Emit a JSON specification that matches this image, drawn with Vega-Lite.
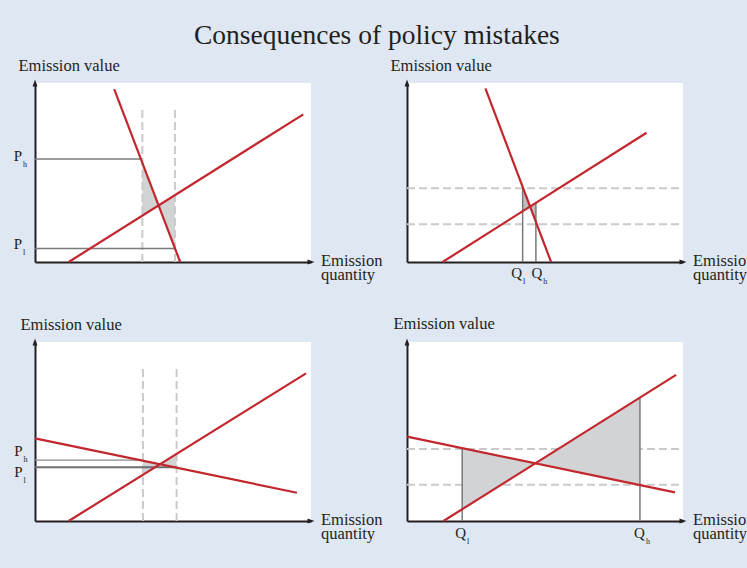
{
  "$schema": "https://vega.github.io/schema/vega-lite/v6.json",
  "background": "#dfe7f3",
  "padding": {"left": 13, "top": 21, "right": 0, "bottom": 26},
  "title": {"text": "Consequences of policy mistakes", "font": "Liberation Serif", "fontSize": 27.5, "fontWeight": "normal", "color": "#231f20", "anchor": "start", "frame": "group", "dx": 159, "offset": 8},
  "config": {
    "view": {"fill": "white", "stroke": null},
    "font": "Liberation Serif",
    "axis": {"domainColor": "#231f20", "domainWidth": 2, "ticks": false, "labels": false, "grid": false, "titleFont": "Liberation Serif", "titleFontWeight": "normal", "titleFontSize": 16.5, "titleColor": "#231f20"}
  },
  "bounds": "flush",
  "columns": 2,
  "spacing": {"row": 80, "column": 96},
  "concat": [
    {
      "width": 276, "height": 179,
      "encoding": {
        "x": {"field": "x", "type": "quantitative", "scale": {"domain": [0, 100], "nice": false, "zero": false}, "axis": {"title": ["Emission", "quantity"], "titleX": 285.5, "titleY": 3, "titleAlign": "left", "titleBaseline": "alphabetic", "titleLineHeight": 14.5}},
        "y": {"field": "y", "type": "quantitative", "scale": {"domain": [0, 100], "nice": false, "zero": false}, "axis": {"title": "Emission value", "titleAngle": 0, "titleX": -17, "titleY": -13, "titleAlign": "left", "titleBaseline": "alphabetic"}}
      },
      "layer": [
        {"data": {"values": [{"x": 38.9, "y": 25.9, "y2": 55.4}, {"x": 44.78, "y": 31.6, "y2": 31.6}, {"x": 50.7, "y": 8.1, "y2": 37.4}]},
         "mark": {"type": "area", "color": "#d2d3d5", "opacity": 1}, "encoding": {"y2": {"field": "y2"}}},
        {"data": {"values": [{"x": 38.9, "y": 0, "x2": 38.9, "y2": 85.9}, {"x": 50.7, "y": 0, "x2": 50.7, "y2": 85.9}]},
         "mark": {"type": "rule", "color": "#c9cacc", "strokeWidth": 2, "strokeDash": [8, 4]}, "encoding": {"x2": {"field": "x2"}, "y2": {"field": "y2"}}},
        {"data": {"values": [{"x": 0, "y": 57.6, "x2": 38.3, "y2": 57.6}, {"x": 0, "y": 7.6, "x2": 50.7, "y2": 7.6}]},
         "mark": {"type": "rule", "color": "#7a7a7c", "strokeWidth": 1.5}, "encoding": {"x2": {"field": "x2"}, "y2": {"field": "y2"}}},
        {"data": {"values": [{"x": 28.7, "y": 96.6, "x2": 52.6, "y2": 0}, {"x": 12.2, "y": 0, "x2": 97.2, "y2": 82.5}]},
         "mark": {"type": "rule", "color": "#c1272d", "strokeWidth": 2.2}, "encoding": {"x2": {"field": "x2"}, "y2": {"field": "y2"}}},
        {"data": {"values": [{"x": 0, "y": 100}]},
         "mark": {"type": "point", "shape": "M0,-1L0.7,1L-0.7,1Z", "filled": true, "opacity": 1, "color": "#231f20", "size": 49}},
        {"data": {"values": [{"x": 100, "y": 0}]},
         "mark": {"type": "point", "shape": "M1,0L-1,-0.7L-1,0.7Z", "filled": true, "opacity": 1, "color": "#231f20", "size": 49}},
        {"data": {"values": [{"x": -4.7, "y": 56.4, "label": "P", "sub": "h"}, {"x": -4.7, "y": 7.4, "label": "P", "sub": "l"}]},
         "layer": [
           {"mark": {"type": "text", "align": "right", "baseline": "alphabetic", "fontSize": 15, "font": "Liberation Serif", "color": "#231f20"}, "encoding": {"text": {"field": "label"}}},
           {"mark": {"type": "text", "align": "left", "baseline": "alphabetic", "fontSize": 8, "font": "Liberation Serif", "color": "#231f20", "dx": 1, "dy": 6}, "encoding": {"text": {"field": "sub"}}}
         ]}
      ]
    },
    {
      "width": 276, "height": 179,
      "encoding": {
        "x": {"field": "x", "type": "quantitative", "scale": {"domain": [0, 100], "nice": false, "zero": false}, "axis": {"title": ["Emission", "quantity"], "titleX": 285.5, "titleY": 3, "titleAlign": "left", "titleBaseline": "alphabetic", "titleLineHeight": 14.5}},
        "y": {"field": "y", "type": "quantitative", "scale": {"domain": [0, 100], "nice": false, "zero": false}, "axis": {"title": "Emission value", "titleAngle": 0, "titleX": -17, "titleY": -13, "titleAlign": "left", "titleBaseline": "alphabetic"}}
      },
      "layer": [
        {"data": {"values": [{"x": 0, "y": 41.2, "x2": 100, "y2": 41.2}, {"x": 0, "y": 21.1, "x2": 100, "y2": 21.1}]},
         "mark": {"type": "rule", "color": "#c9cacc", "strokeWidth": 2, "strokeDash": [8, 4]}, "encoding": {"x2": {"field": "x2"}, "y2": {"field": "y2"}}},
        {"data": {"values": [{"x": 41.9, "y": 28.3, "y2": 42.0}, {"x": 44.6, "y": 31.0, "y2": 31.0}, {"x": 46.7, "y": 22.4, "y2": 33.0}]},
         "mark": {"type": "area", "color": "#bdbec0", "opacity": 1}, "encoding": {"y2": {"field": "y2"}}},
        {"data": {"values": [{"x": 41.9, "y": 0, "x2": 41.9, "y2": 42.0}, {"x": 46.7, "y": 0, "x2": 46.7, "y2": 33.0}]},
         "mark": {"type": "rule", "color": "#7a7a7c", "strokeWidth": 1.5}, "encoding": {"x2": {"field": "x2"}, "y2": {"field": "y2"}}},
        {"data": {"values": [{"x": 28.4, "y": 97.0, "x2": 52.2, "y2": 0}, {"x": 12.9, "y": 0, "x2": 86.8, "y2": 72.2}]},
         "mark": {"type": "rule", "color": "#c1272d", "strokeWidth": 2.2}, "encoding": {"x2": {"field": "x2"}, "y2": {"field": "y2"}}},
        {"data": {"values": [{"x": 0, "y": 100}]},
         "mark": {"type": "point", "shape": "M0,-1L0.7,1L-0.7,1Z", "filled": true, "opacity": 1, "color": "#231f20", "size": 49}},
        {"data": {"values": [{"x": 100, "y": 0}]},
         "mark": {"type": "point", "shape": "M1,0L-1,-0.7L-1,0.7Z", "filled": true, "opacity": 1, "color": "#231f20", "size": 49}},
        {"data": {"values": [{"x": 41.7, "y": -9.0, "label": "Q", "sub": "l"}, {"x": 49.0, "y": -9.0, "label": "Q", "sub": "h"}]},
         "layer": [
           {"mark": {"type": "text", "align": "right", "baseline": "alphabetic", "fontSize": 15, "font": "Liberation Serif", "color": "#231f20"}, "encoding": {"text": {"field": "label"}}},
           {"mark": {"type": "text", "align": "left", "baseline": "alphabetic", "fontSize": 8, "font": "Liberation Serif", "color": "#231f20", "dx": 1, "dy": 6}, "encoding": {"text": {"field": "sub"}}}
         ]}
      ]
    },
    {
      "width": 276, "height": 179,
      "encoding": {
        "x": {"field": "x", "type": "quantitative", "scale": {"domain": [0, 100], "nice": false, "zero": false}, "axis": {"title": ["Emission", "quantity"], "titleX": 285.5, "titleY": 3, "titleAlign": "left", "titleBaseline": "alphabetic", "titleLineHeight": 14.5}},
        "y": {"field": "y", "type": "quantitative", "scale": {"domain": [0, 100], "nice": false, "zero": false}, "axis": {"title": "Emission value", "titleAngle": 0, "titleX": -15, "titleY": -13, "titleAlign": "left", "titleBaseline": "alphabetic"}}
      },
      "layer": [
        {"data": {"values": [{"x": 39.1, "y": 25.8, "y2": 33.7}, {"x": 45.25, "y": 31.7, "y2": 31.7}, {"x": 51.3, "y": 29.8, "y2": 37.5}]},
         "mark": {"type": "area", "color": "#d2d3d5", "opacity": 1}, "encoding": {"y2": {"field": "y2"}}},
        {"data": {"values": [{"x": 39.1, "y": 0, "x2": 39.1, "y2": 86.2}, {"x": 51.3, "y": 0, "x2": 51.3, "y2": 86.2}]},
         "mark": {"type": "rule", "color": "#c9cacc", "strokeWidth": 2, "strokeDash": [8, 4]}, "encoding": {"x2": {"field": "x2"}, "y2": {"field": "y2"}}},
        {"data": {"values": [{"x": 0, "y": 34.0, "x2": 39.1, "y2": 34.0}]},
         "mark": {"type": "rule", "color": "#8a8a8c", "strokeWidth": 1.3}, "encoding": {"x2": {"field": "x2"}, "y2": {"field": "y2"}}},
        {"data": {"values": [{"x": 0, "y": 30.0, "x2": 51.3, "y2": 30.0}]},
         "mark": {"type": "rule", "color": "#6d6e70", "strokeWidth": 2}, "encoding": {"x2": {"field": "x2"}, "y2": {"field": "y2"}}},
        {"data": {"values": [{"x": 0, "y": 46.2, "x2": 94.9, "y2": 15.8}, {"x": 12.2, "y": 0, "x2": 98.2, "y2": 82.5}]},
         "mark": {"type": "rule", "color": "#c1272d", "strokeWidth": 2.2}, "encoding": {"x2": {"field": "x2"}, "y2": {"field": "y2"}}},
        {"data": {"values": [{"x": 0, "y": 100}]},
         "mark": {"type": "point", "shape": "M0,-1L0.7,1L-0.7,1Z", "filled": true, "opacity": 1, "color": "#231f20", "size": 49}},
        {"data": {"values": [{"x": 100, "y": 0}]},
         "mark": {"type": "point", "shape": "M1,0L-1,-0.7L-1,0.7Z", "filled": true, "opacity": 1, "color": "#231f20", "size": 49}},
        {"data": {"values": [{"x": -4.5, "y": 36.3, "label": "P", "sub": "h"}, {"x": -4.5, "y": 24.7, "label": "P", "sub": "l"}]},
         "layer": [
           {"mark": {"type": "text", "align": "right", "baseline": "alphabetic", "fontSize": 15, "font": "Liberation Serif", "color": "#231f20"}, "encoding": {"text": {"field": "label"}}},
           {"mark": {"type": "text", "align": "left", "baseline": "alphabetic", "fontSize": 8, "font": "Liberation Serif", "color": "#231f20", "dx": 1, "dy": 6}, "encoding": {"text": {"field": "sub"}}}
         ]}
      ]
    },
    {
      "width": 276, "height": 179,
      "encoding": {
        "x": {"field": "x", "type": "quantitative", "scale": {"domain": [0, 100], "nice": false, "zero": false}, "axis": {"title": ["Emission", "quantity"], "titleX": 285.5, "titleY": 3, "titleAlign": "left", "titleBaseline": "alphabetic", "titleLineHeight": 14.5}},
        "y": {"field": "y", "type": "quantitative", "scale": {"domain": [0, 100], "nice": false, "zero": false}, "axis": {"title": "Emission value", "titleAngle": 0, "titleX": -14, "titleY": -14, "titleAlign": "left", "titleBaseline": "alphabetic"}}
      },
      "layer": [
        {"data": {"values": [{"x": 0, "y": 40.2, "x2": 100, "y2": 40.2}, {"x": 0, "y": 20.3, "x2": 100, "y2": 20.3}]},
         "mark": {"type": "rule", "color": "#c9cacc", "strokeWidth": 2, "strokeDash": [8, 4]}, "encoding": {"x2": {"field": "x2"}, "y2": {"field": "y2"}}},
        {"data": {"values": [{"x": 20.0, "y": 6.6, "y2": 40.7}, {"x": 46.48, "y": 32.2, "y2": 32.2}, {"x": 84.4, "y": 20.1, "y2": 68.9}]},
         "mark": {"type": "area", "color": "#d2d3d5", "opacity": 1}, "encoding": {"y2": {"field": "y2"}}},
        {"data": {"values": [{"x": 20.0, "y": 0, "x2": 20.0, "y2": 40.7}, {"x": 84.4, "y": 0, "x2": 84.4, "y2": 68.9}]},
         "mark": {"type": "rule", "color": "#7a7a7c", "strokeWidth": 1.5}, "encoding": {"x2": {"field": "x2"}, "y2": {"field": "y2"}}},
        {"data": {"values": [{"x": 0, "y": 47.1, "x2": 97.1, "y2": 16.0}, {"x": 13.2, "y": 0, "x2": 97.5, "y2": 81.6}]},
         "mark": {"type": "rule", "color": "#c1272d", "strokeWidth": 2.2}, "encoding": {"x2": {"field": "x2"}, "y2": {"field": "y2"}}},
        {"data": {"values": [{"x": 0, "y": 100}]},
         "mark": {"type": "point", "shape": "M0,-1L0.7,1L-0.7,1Z", "filled": true, "opacity": 1, "color": "#231f20", "size": 49}},
        {"data": {"values": [{"x": 100, "y": 0}]},
         "mark": {"type": "point", "shape": "M1,0L-1,-0.7L-1,0.7Z", "filled": true, "opacity": 1, "color": "#231f20", "size": 49}},
        {"data": {"values": [{"x": 21.4, "y": -9.5, "label": "Q", "sub": "l"}, {"x": 86.2, "y": -9.5, "label": "Q", "sub": "h"}]},
         "layer": [
           {"mark": {"type": "text", "align": "right", "baseline": "alphabetic", "fontSize": 15, "font": "Liberation Serif", "color": "#231f20"}, "encoding": {"text": {"field": "label"}}},
           {"mark": {"type": "text", "align": "left", "baseline": "alphabetic", "fontSize": 8, "font": "Liberation Serif", "color": "#231f20", "dx": 1, "dy": 6}, "encoding": {"text": {"field": "sub"}}}
         ]}
      ]
    }
  ]
}
